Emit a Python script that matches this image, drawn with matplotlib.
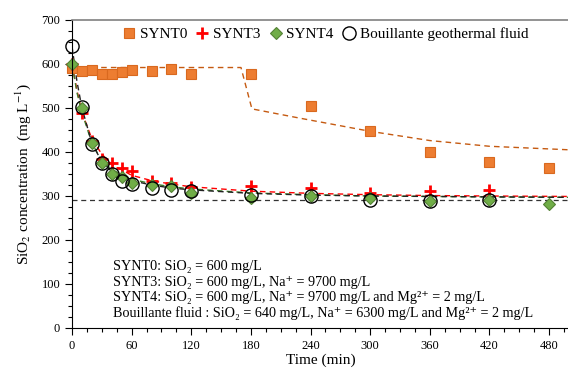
import matplotlib
matplotlib.use("Agg")
import matplotlib.pyplot as plt
from matplotlib.ticker import MultipleLocator

plt.rcParams['font.family'] = ['Liberation Serif', 'DejaVu Serif']
plt.rcParams['mathtext.fontset'] = 'stix'

# measured points
t0 = [0, 10, 20, 30, 40, 50, 60, 80, 100, 120, 180, 240, 300, 360, 420, 480]
synt0 = [591, 584, 586, 578, 577, 581, 586, 584, 588, 578, 578, 505, 447, 400, 378, 364]

t3 = [0, 10, 20, 30, 40, 50, 60, 80, 100, 120, 180, 240, 300, 360, 420]
synt3 = [600, 488, 425, 384, 375, 363, 356, 335, 329, 320, 322, 318, 307, 311, 314]

t4 = [0, 10, 20, 30, 40, 50, 60, 80, 100, 120, 180, 240, 300, 360, 420, 480]
synt4 = [600, 501, 420, 374, 351, 343, 329, 326, 323, 307, 296, 301, 295, 288, 290, 281]

tb = [0, 10, 20, 30, 40, 50, 60, 80, 100, 120, 180, 240, 300, 360, 420]
bouil = [640, 503, 418, 374, 351, 335, 328, 319, 313, 311, 303, 301, 290, 288, 290]

# model curves
tm0 = [0, 170, 181, 229, 300, 360, 420, 480, 500]
model0 = [592, 592, 498, 477, 447, 426, 413, 407, 405]

tm = [0, 5, 10, 20, 30, 40, 60, 80, 100, 120, 180, 240, 300, 360, 420, 500]
model3 = [600, 540, 490, 430, 395, 372, 347, 335, 327, 321, 311, 306, 303, 301, 300, 299]
model4 = [600, 535, 490, 420, 380, 360, 338, 328, 321, 316, 307, 303, 300, 299, 298, 297]
modelb = [640, 560, 500, 420, 378, 356, 335, 325, 318, 314, 306, 302, 300, 299, 298, 297]
solubility = 291

notes = [
    'SYNT0: SiO\u2082 = 600 mg/L',
    'SYNT3: SiO\u2082 = 600 mg/L, Na\u207a = 9700 mg/L',
    'SYNT4: SiO\u2082 = 600 mg/L, Na\u207a = 9700 mg/L and Mg\u00b2\u207a = 2 mg/L',
    'Bouillante fluid : SiO\u2082 = 640 mg/L, Na\u207a = 6300 mg/L and Mg\u00b2\u207a = 2 mg/L',
]

fig = plt.figure(figsize=(5.68, 3.76), dpi=100)
ax = fig.add_axes([72/568, 48/376, 497/568, 308/376])

dash = (0, (4, 3))
ax.plot(tm0, model0, color='#C55A11', lw=1, ls=dash)
ax.plot(tm, model3, color='red', lw=1, ls=dash)
ax.plot(tm, model4, color='#3F7F2A', lw=1, ls=dash)
ax.plot(tm, modelb, color='#222222', lw=1, ls=dash)
ax.axhline(solubility, color='#333333', lw=0.9, ls=dash)

ax.plot(t0, synt0, ls='none', marker='s', ms=6.5, mfc='#ED7D31', mec='#D9691F',
        mew=0.8, label='SYNT0', clip_on=False)
ax.plot(t3, synt3, ls='none', marker='+', ms=9, mew=2, color='red',
        label='SYNT3', clip_on=False)
ax.plot(t4, synt4, ls='none', marker='D', ms=6, mfc='#70AD47', mec='#548235',
        mew=0.8, label='SYNT4', clip_on=False)
ax.plot(tb, bouil, ls='none', marker='o', ms=9.5, mfc='none', mec='black',
        mew=1, label='Bouillante geothermal fluid', clip_on=False)

ax.set_xlim(0, 500)
ax.set_ylim(0, 700)
ax.xaxis.set_major_locator(MultipleLocator(60))
ax.xaxis.set_minor_locator(MultipleLocator(15))
ax.yaxis.set_major_locator(MultipleLocator(100))
ax.yaxis.set_minor_locator(MultipleLocator(25))
ax.tick_params(which='major', direction='out', length=5, width=0.8, labelsize=9)
ax.tick_params(which='minor', direction='out', length=3, width=0.8)

ax.spines['right'].set_visible(False)
ax.spines['top'].set_color('#808080')
ax.spines['top'].set_linewidth(1.2)

ax.set_xlabel('Time (min)', fontsize=11, labelpad=1)
ax.set_ylabel('SiO$_2$ concentration  (mg L$^{-1}$)', fontsize=11, labelpad=6)

ax.legend(loc='upper center', bbox_to_anchor=(0.51, 1.0), ncol=4, frameon=False,
          fontsize=11, handlelength=0.8, handletextpad=0.3, columnspacing=0.6,
          borderaxespad=0.1)

ax.text(41, 86, '\n'.join(notes), fontsize=10.2, va='center', ha='left',
        linespacing=1.22)

fig.savefig('out.png', dpi=100)
